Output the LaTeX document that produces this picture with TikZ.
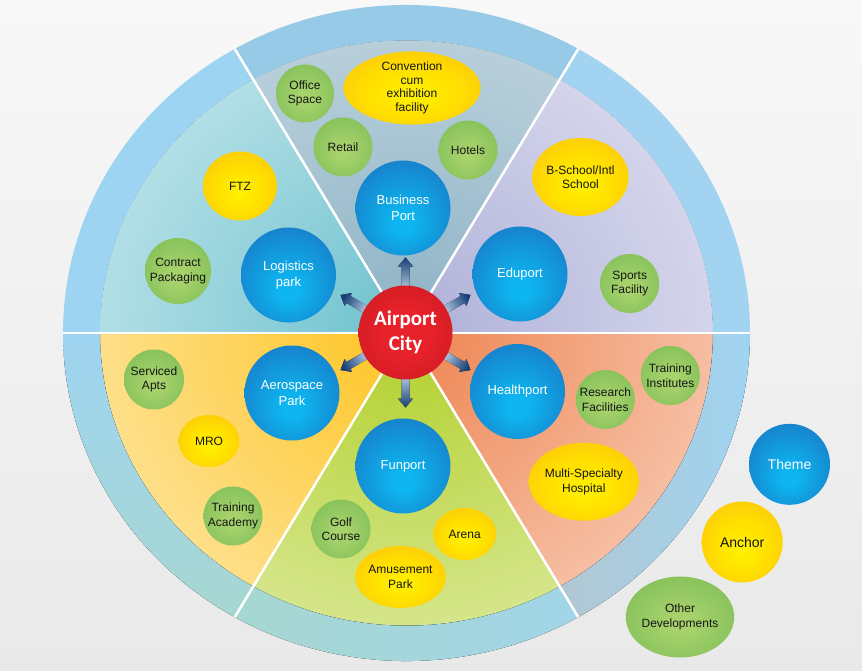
\documentclass[tikz,border=0pt]{standalone}
\usepackage{fontspec}
\setmainfont{Liberation Sans}
\newfontfamily\cityfont{Carlito}
\usetikzlibrary{shapes.geometric}

\definecolor{bgtop}{HTML}{F8F8F8}
\definecolor{bgbot}{HTML}{E9E9E9}
% ball colours
\definecolor{bC}{HTML}{0DB6F0}
\definecolor{bE}{HTML}{1E58AF}
\definecolor{yC}{HTML}{FFF200}
\definecolor{yM}{HTML}{FFE000}
\definecolor{yN}{HTML}{FDC00F}
\definecolor{yE}{HTML}{F8A31B}
\definecolor{gC}{HTML}{A8D26C}
\definecolor{gE}{HTML}{67B34B}
\definecolor{rC}{HTML}{E8222A}
\definecolor{rE}{HTML}{B5141C}
% sector colours
\definecolor{bizC}{HTML}{8CB2C5}\definecolor{bizE}{HTML}{E4ECF0}
\definecolor{eduC}{HTML}{ADAFD8}\definecolor{eduE}{HTML}{FBFBFD}
\definecolor{heaC}{HTML}{EE8450}\definecolor{heaE}{HTML}{FEF8F5}
\definecolor{funC}{HTML}{B2D02C}\definecolor{funE}{HTML}{F8FAE8}
\definecolor{aerC}{HTML}{FEC421}\definecolor{aerE}{HTML}{FFFBF2}
\definecolor{logC}{HTML}{6CC1CE}\definecolor{logE}{HTML}{F8FCFD}
% ring colours
\definecolor{ringTop}{HTML}{97CAE7}
\definecolor{ringUL}{HTML}{9DD4F2}
\definecolor{ringUR}{HTML}{A2D3F0}
\definecolor{ringBlue}{HTML}{9FD4F1}
\definecolor{ringTeal}{HTML}{A7D7D1}
\definecolor{ringGray}{HTML}{B2C7D2}
\definecolor{arrdark}{HTML}{173F78}
\definecolor{arrlight}{HTML}{AFC6DE}
\definecolor{txt}{HTML}{151515}

\pgfdeclareradialshading{blueball}{\pgfpoint{0bp}{-9bp}}{color(0bp)=(bC); color(5bp)=(bC); color(50bp)=(bE)}
\pgfdeclareradialshading{yellowball}{\pgfpoint{0bp}{-5bp}}{color(0bp)=(yC); color(16bp)=(yM); color(38bp)=(yN); color(50bp)=(yE)}
\pgfdeclareradialshading{greenball}{\pgfpoint{0bp}{-4bp}}{color(0bp)=(gC); color(5bp)=(gC); color(50bp)=(gE)}
\pgfdeclareradialshading{redball}{\pgfpoint{0bp}{0bp}}{color(0bp)=(rC); color(12bp)=(rC); color(50bp)=(rE)}
\pgfdeclareradialshading{secbiz}{\pgfpoint{0bp}{0bp}}{color(0bp)=(bizC); color(50bp)=(bizE)}
\pgfdeclareradialshading{secedu}{\pgfpoint{0bp}{0bp}}{color(0bp)=(eduC); color(50bp)=(eduE)}
\pgfdeclareradialshading{sechea}{\pgfpoint{0bp}{0bp}}{color(0bp)=(heaC); color(50bp)=(heaE)}
\pgfdeclareradialshading{secfun}{\pgfpoint{0bp}{0bp}}{color(0bp)=(funC); color(50bp)=(funE)}
\pgfdeclareradialshading{secaer}{\pgfpoint{0bp}{0bp}}{color(0bp)=(aerC); color(50bp)=(aerE)}
\pgfdeclareradialshading{seclog}{\pgfpoint{0bp}{0bp}}{color(0bp)=(logC); color(50bp)=(logE)}

\tikzset{
  ball/.style={circle, inner sep=0pt, align=center},
  bluen/.style={ball, shading=blueball, minimum size=95pt, text=white,
     font=\fontsize{13}{15.5}\selectfont},
  greenn/.style={ball, shading=greenball, minimum size=59pt, text=txt,
     font=\fontsize{12}{14.5}\selectfont},
  yellown/.style={ellipse, inner sep=0pt, align=center, shading=yellowball, text=txt,
     font=\fontsize{12}{14.5}\selectfont},
  greenell/.style={ellipse, inner sep=0pt, align=center, shading=greenball, text=txt,
     font=\fontsize{12}{14.5}\selectfont},
  citynode/.style={ball, shading=redball, minimum size=94pt, text=white,
     font=\cityfont\bfseries\fontsize{21}{25}\selectfont},
  divline/.style={white, line width=2.5pt},
  blockarrow/.style={top color=arrdark, bottom color=arrlight},
}

\begin{document}
\begin{tikzpicture}[x=1pt,y=-1pt]
\useasboundingbox (0,0) rectangle (862,671);
\fill[top color=bgtop, bottom color=bgbot] (0,0) rectangle (862,671);

% ---- wheel ----
\begin{scope}[shift={(406.5,333)}, yscale=0.955]
  \foreach \a/\sh in {240/secbiz, 300/secedu, 0/sechea, 60/secfun, 120/secaer, 180/seclog}{
    \begin{scope}
      \clip (0,0) -- (\a:330) arc[start angle=\a, end angle=\a+60, radius=330] -- cycle;
      \fill[shading=\sh] (0,0) circle[radius=306.5];
    \end{scope}
  }
  % ring segments
  \fill[ringTop] (240:343.5) arc[start angle=240,end angle=300,radius=343.5]
     -- (300:306.5) arc[start angle=300,end angle=240,radius=306.5] -- cycle;
  \fill[ringUR] (300:343.5) arc[start angle=300,end angle=360,radius=343.5]
     -- (0:306.5) arc[start angle=360,end angle=300,radius=306.5] -- cycle;
  \fill[ringUL] (180:343.5) arc[start angle=180,end angle=240,radius=343.5]
     -- (240:306.5) arc[start angle=240,end angle=180,radius=306.5] -- cycle;
  \fill[top color=ringBlue, bottom color=ringTeal] (120:343.5) arc[start angle=120,end angle=180,radius=343.5]
     -- (180:306.5) arc[start angle=180,end angle=120,radius=306.5] -- cycle;
  \fill[left color=ringTeal, right color=ringBlue!70!ringTeal] (60:343.5) arc[start angle=60,end angle=120,radius=343.5]
     -- (120:306.5) arc[start angle=120,end angle=60,radius=306.5] -- cycle;
  \fill[left color=ringGray, right color=ringBlue] (0:343.5) arc[start angle=0,end angle=60,radius=343.5]
     -- (60:306.5) arc[start angle=60,end angle=0,radius=306.5] -- cycle;
  \foreach \a in {0,60,...,300}
    \draw[divline] (0,0) -- (\a:343.5);
\end{scope}

% ---- arrows from the hub ----
\coordinate (hub) at (405.5,332.5);
\foreach \ang/\sa in {90/0, 30/-60, 150/60, 210/120, 270/180, 330/240}{
  \begin{scope}[shift={(hub)}, rotate=\ang]
    \fill[blockarrow, shading angle=\sa]
      (44,-4) -- (66,-4) -- (66,-7.5) -- (75,0) -- (66,7.5) -- (66,4) -- (44,4) -- cycle;
  \end{scope}
}

% ---- hub ----
\node[citynode] (city) at (hub) {Airport\\City};

% ---- Business Port sector ----
\node[bluen] (business) at (403,208) {Business\\Port};
\node[greenn, minimum size=58pt] (office) at (305,93.5) {Office\\Space};
\node[yellown, minimum width=137pt, minimum height=62pt, font=\fontsize{12}{13.5}\selectfont] (conv) at (412,88) {Convention\\cum\\exhibition\\facility};
\node[greenn] (retail) at (343,147) {Retail};
\node[greenn] (hotels) at (468,150) {Hotels};

% ---- Logistics ----
\node[bluen] (logistics) at (288.5,275) {Logistics\\park};
\node[yellown, minimum width=74pt, minimum height=69pt] (ftz) at (240,186) {FTZ};
\node[greenn, minimum size=66pt] (contract) at (178,271) {Contract\\Packaging};

% ---- Eduport ----
\node[bluen] (eduport) at (520,274) {Eduport};
\node[yellown, minimum width=79pt, minimum height=78pt] (bschool) at (580.5,177) {B-School/Intl\\School};
\node[greenn] (sports) at (629.7,283.5) {Sports\\Facility};

% ---- Aerospace ----
\node[bluen] (aero) at (292,393) {Aerospace\\Park};
\node[greenn, minimum size=60pt] (serviced) at (154,379.5) {Serviced\\Apts};
\node[yellown, minimum width=61pt, minimum height=52pt] (mro) at (209,441) {MRO};
\node[greenn] (tacad) at (233,516) {Training\\Academy};

% ---- Funport ----
\node[bluen] (funport) at (403,466) {Funport};
\node[greenn] (golf) at (341,529) {Golf\\Course};
\node[yellown, minimum width=79pt, minimum height=62pt] (amuse) at (400.5,577) {Amusement\\Park};
\node[yellown, minimum width=63pt, minimum height=52pt] (arena) at (464.7,534) {Arena};

% ---- Healthport ----
\node[bluen] (health) at (517.5,391.5) {Healthport};
\node[greenn] (research) at (605.3,399.5) {Research\\Facilities};
\node[greenn] (tinst) at (670.3,375.5) {Training\\Institutes};
\node[yellown, minimum width=89pt, minimum height=78pt] (multi) at (583.8,481.7) {Multi-Specialty\\Hospital};

% ---- legend ----
\node[bluen, minimum size=81pt, font=\fontsize{14}{16}\selectfont] (theme) at (789.5,464.3) {Theme};
\node[yellown, minimum width=81pt, minimum height=81pt, font=\fontsize{14}{16}\selectfont] (anchor) at (742.2,542) {Anchor};
\node[greenell, minimum width=91pt, minimum height=81pt] (other) at (680,617) {Other\\Developments};
\end{tikzpicture}
\end{document}
